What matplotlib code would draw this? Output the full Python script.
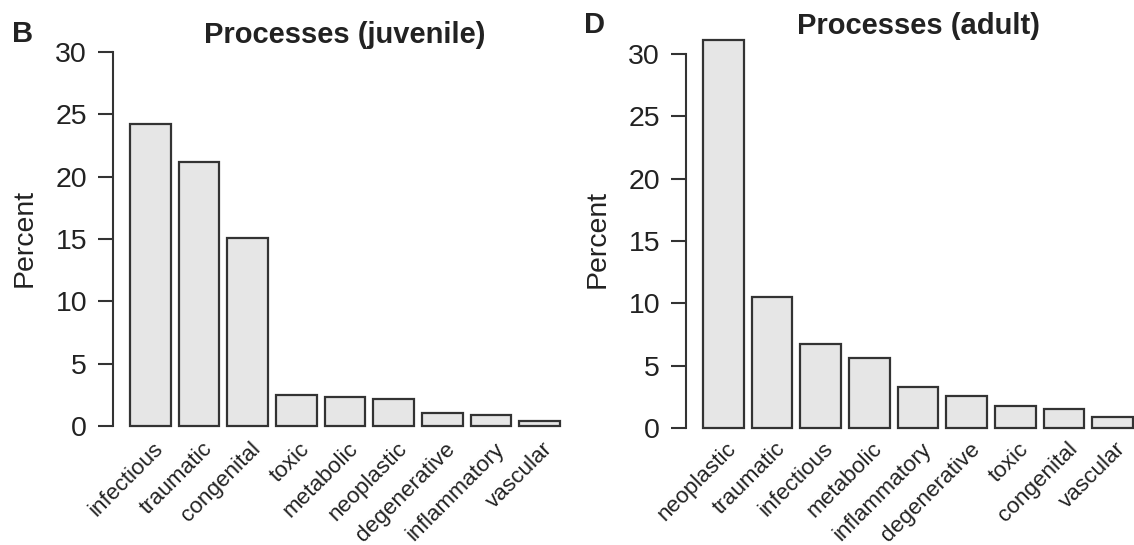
import matplotlib
matplotlib.use("Agg")
import matplotlib.pyplot as plt
import matplotlib.transforms as mtransforms

plt.rcParams['font.family'] = ['Liberation Sans', 'DejaVu Sans']

juv_categories = ["infectious", "traumatic", "congenital", "toxic", "metabolic",
                  "neoplastic", "degenerative", "inflammatory", "vascular"]
juv_values = [24.2, 21.2, 15.1, 2.5, 2.3, 2.2, 1.05, 0.9, 0.4]

adult_categories = ["neoplastic", "traumatic", "infectious", "metabolic", "inflammatory",
                    "degenerative", "toxic", "congenital", "vascular"]
adult_values = [31.1, 10.5, 6.75, 5.65, 3.3, 2.55, 1.75, 1.55, 0.85]

y_ticks = [0, 5, 10, 15, 20, 25, 30]

W, H = 1134, 545
fig = plt.figure(figsize=(W / 100, H / 100), dpi=100)

TXT = "#222222"
FILL = "#e6e6e6"
EDGE = "#333333"
PX_PER_X = 40.57
PX_PER_Y = 12.47


def px_axes(x0, y_top, y_bot):
    width = 11.448 * PX_PER_X
    return fig.add_axes([x0 / W, (H - y_bot) / H, width / W, (y_bot - y_top) / H])


def draw_panel(ax, cats, vals, title, letter, title_y, letter_x, letter_y,
               ylab_x, ylab_y, zero_px, top_px, bot_px):
    n = len(cats)
    centers = [0.7 + 1.2 * i for i in range(n)]
    ax.bar(centers, vals, width=1.0, color=FILL, edgecolor=EDGE, linewidth=1.6,
           zorder=2, clip_on=False)
    ax.set_xlim(-0.224, 11.224)
    ax.set_ylim(-(bot_px - zero_px) / PX_PER_Y, (zero_px - top_px) / PX_PER_Y)
    for s in ["top", "right", "bottom"]:
        ax.spines[s].set_visible(False)
    ax.spines["left"].set_bounds(0, 30)
    ax.spines["left"].set_linewidth(1.5)
    ax.spines["left"].set_color(EDGE)
    ax.set_yticks(y_ticks)
    ax.set_yticklabels([str(t) for t in y_ticks], fontsize=20.5, color=TXT)
    ax.tick_params(axis="y", length=11, width=1.5, color=EDGE, pad=7.5)
    ax.set_xticks(centers)
    ax.set_xticklabels(cats, rotation=45, ha="right", va="top",
                       rotation_mode="anchor", fontsize=16.2, color=TXT)
    ax.tick_params(axis="x", length=0, pad=-2.5)
    offset = mtransforms.ScaledTranslation(2.5 / 100, 0, fig.dpi_scale_trans)
    for lab in ax.get_xticklabels():
        lab.set_transform(lab.get_transform() + offset)
    bb = ax.get_position()
    cx = (bb.x0 + bb.x1) / 2
    fig.text(cx, 1 - title_y / H, title, ha="center", va="baseline",
             fontsize=21, fontweight="bold", color=TXT)
    fig.text(letter_x / W, 1 - letter_y / H, letter, ha="left", va="baseline",
             fontsize=21, fontweight="bold", color=TXT)
    fig.text(ylab_x / W, 1 - ylab_y / H, "Percent",
             rotation=90, ha="center", va="center", fontsize=20.5, color=TXT)


ax1 = px_axes(112.8, 30, 442)
draw_panel(ax1, juv_categories, juv_values, "Processes (juvenile)", "B",
           43, 12, 42, 25, 237.5, 426, 30, 442)

ax2 = px_axes(685.8, 30, 442)
draw_panel(ax2, adult_categories, adult_values, "Processes (adult)", "D",
           34, 584, 33, 598, 238.5, 428, 30, 442)

fig.savefig("out.png", dpi=100)
